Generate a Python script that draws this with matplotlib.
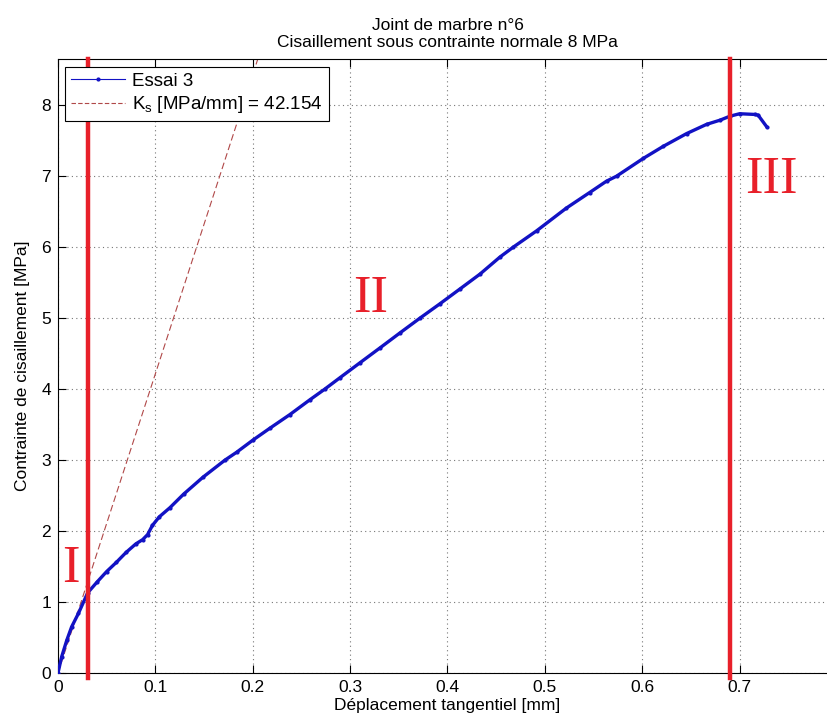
import matplotlib
matplotlib.use("Agg")
import matplotlib.pyplot as plt
from matplotlib.lines import Line2D

plt.rcParams['font.family'] = ['Liberation Sans', 'DejaVu Sans']
plt.rcParams['mathtext.fontset'] = 'custom'
plt.rcParams['mathtext.rm'] = 'Liberation Sans'
plt.rcParams['mathtext.it'] = 'Liberation Sans'

# courbe d'essai
deplacement = [0, 0.0038, 0.009, 0.014, 0.021, 0.0305, 0.040, 0.050, 0.060,
               0.070, 0.080, 0.087, 0.092, 0.097, 0.104, 0.115, 0.129, 0.149,
               0.1715, 0.1834, 0.200, 0.2177, 0.238, 0.2587, 0.274, 0.2895,
               0.310, 0.3306, 0.351, 0.3717, 0.392, 0.4127, 0.4333, 0.4538,
               0.4675, 0.4915, 0.522, 0.546, 0.5633, 0.5736, 0.601,
               0.6215, 0.6455, 0.666, 0.680, 0.690, 0.700, 0.7156, 0.719,
               0.7276]
contrainte = [0, 0.23, 0.46, 0.65, 0.84, 1.13, 1.28, 1.43, 1.56,
              1.70, 1.82, 1.88, 1.95, 2.08, 2.20, 2.33, 2.52, 2.76,
              3.00, 3.11, 3.28, 3.45, 3.64, 3.85, 4.00, 4.16,
              4.37, 4.58, 4.79, 5.00, 5.20, 5.41, 5.62, 5.86,
              6.00, 6.23, 6.55, 6.77, 6.93, 7.00, 7.25,
              7.42, 7.60, 7.73, 7.79, 7.845, 7.88, 7.87, 7.86,
              7.70]

Ks = 42.154
x_ks = [0, 0.21]
limites = [0.0305, 0.690]
zones = ['I', 'II', 'III']
zones_x = [0.0128, 0.3208, 0.7325]
zones_y = [1.47, 5.27, 6.95]

rouge = '#e8202a'

fig = plt.figure(figsize=(8.27, 7.24), dpi=100)
ax = fig.add_axes([0.0701, 0.0704, 0.942, 0.848])

ax.plot(deplacement, contrainte, '.-', color='#1212c4', lw=2.4, ms=4, zorder=3)
ax.plot(x_ks, [Ks * x for x in x_ks], '--', color='#b04848', lw=0.8,
        dashes=(6, 3), zorder=2)

for xl in limites:
    ax.plot([xl, xl], [-0.07, 8.65], color=rouge, lw=3.2, clip_on=False, zorder=4)

for t, xz, yz in zip(zones, zones_x, zones_y):
    ax.text(xz, yz, t, color=rouge, fontsize=38, family='Liberation Serif',
            ha='center', va='center', zorder=5)

ax.set_xlim(0, 0.8)
ax.set_ylim(0, 8.65)
ax.set_xticks([0, 0.1, 0.2, 0.3, 0.4, 0.5, 0.6, 0.7])
ax.set_xticklabels(['0', '0.1', '0.2', '0.3', '0.4', '0.5', '0.6', '0.7'])
ax.set_yticks(range(0, 9))
ax.tick_params(direction='in', top=True, right=True, labelsize=12.5,
               length=6, width=0.8, pad=5)
ax.grid(True, linestyle=(0, (1, 3)), color='#777777', lw=0.8)
for s in ax.spines.values():
    s.set_linewidth(0.8)

ax.set_xlabel('Déplacement tangentiel [mm]', fontsize=12.5, labelpad=2)
ax.set_ylabel('Contrainte de cisaillement [MPa]', fontsize=12.5, labelpad=8)
ax.set_title('Joint de marbre n°6\nCisaillement sous contrainte normale 8 MPa',
             fontsize=12.5, pad=9, linespacing=1.15)

poignees = [Line2D([], [], color='#1212c4', lw=0.8, marker='.', ms=4),
            Line2D([], [], color='#b04848', lw=0.8, ls='--', dashes=(4, 2))]
leg = ax.legend(poignees, ['Essai 3', r'K$_\mathrm{s}$ [MPa/mm] = 42.154'],
                loc='upper left', bbox_to_anchor=(0.009, 0.987), fontsize=13.5,
                fancybox=False, edgecolor='black', framealpha=1,
                handlelength=2.9, borderaxespad=0, borderpad=0.3,
                labelspacing=0.25, handletextpad=0.4)
leg.get_frame().set_linewidth(0.8)

fig.savefig('out.png', dpi=100)
